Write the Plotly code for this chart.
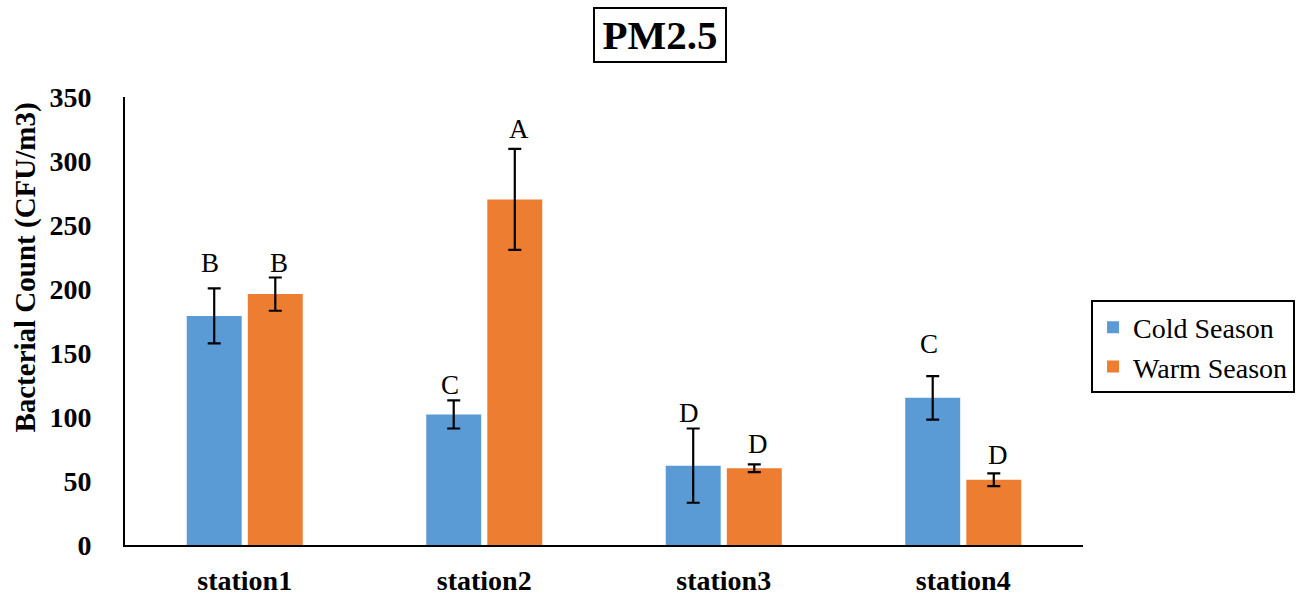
import plotly.graph_objects as go

stations = ["station1", "station2", "station3", "station4"]
cold = [179, 102, 62, 115]
cold_err = [21.5, 11, 29, 17]
warm = [196, 270, 60, 51]
warm_err = [13, 39.5, 3, 5]
cold_letters = ["B", "C", "D", "C"]
warm_letters = ["B", "A", "D", "D"]
cold_letter_y = [220, 125, 103, 157]
warm_letter_y = [220, 325, 79, 70]

y_ticks = [0, 50, 100, 150, 200, 250, 300, 350]

SERIF = "Times New Roman, Liberation Serif, Tinos, DejaVu Serif, serif"
BLUE = "#5B9BD5"
ORANGE = "#ED7D31"

fig = go.Figure()
fig.add_trace(go.Bar(
    name="Cold Season", x=stations, y=cold,
    marker=dict(color=BLUE, line=dict(width=0)),
    error_y=dict(type="data", array=cold_err, color="black", thickness=2.2, width=6.5),
))
fig.add_trace(go.Bar(
    name="Warm Season", x=stations, y=warm,
    marker=dict(color=ORANGE, line=dict(width=0)),
    error_y=dict(type="data", array=warm_err, color="black", thickness=2.2, width=6.5),
))

# significance letters above each bar
annotations = []
for i, s in enumerate(stations):
    annotations.append(dict(x=s, y=cold_letter_y[i], text=cold_letters[i], xref="x", yref="y",
                            xshift=-34.5, showarrow=False, yanchor="middle",
                            font=dict(family=SERIF, size=27, color="black")))
    annotations.append(dict(x=s, y=warm_letter_y[i], text=warm_letters[i], xref="x", yref="y",
                            xshift=34.5, showarrow=False, yanchor="middle",
                            font=dict(family=SERIF, size=27, color="black")))

# boxed chart title
annotations.append(dict(x=0.5585, y=1.138, xref="paper", yref="paper", text="<b>PM2.5</b>",
                        showarrow=False, xanchor="center", yanchor="middle",
                        width=126, height=48,
                        bordercolor="black", borderwidth=2, borderpad=2, bgcolor="white",
                        font=dict(family=SERIF, size=41, color="black")))

# y-axis title
annotations.append(dict(x=-0.104, y=0.62, xref="paper", yref="paper",
                        text="<b>Bacterial Count (CFU/m3)</b>", textangle=-90,
                        showarrow=False, xanchor="center", yanchor="middle",
                        font=dict(family=SERIF, size=29, color="black")))

fig.update_layout(
    width=1304, height=597,
    margin=dict(l=125, r=221, t=97, b=52, autoexpand=False),
    paper_bgcolor="white", plot_bgcolor="white",
    barmode="group", bargap=0.49, bargroupgap=0.1,
    showlegend=True,
    font=dict(family=SERIF, color="black"),
    legend=dict(x=1.0084, y=0.442, xanchor="left", yanchor="middle",
                bordercolor="black", borderwidth=2, bgcolor="white",
                font=dict(family=SERIF, size=28, color="black"),
                itemsizing="constant", tracegroupgap=0),
    annotations=annotations,
    xaxis=dict(showline=True, linecolor="black", linewidth=2.2, ticks="",
               automargin=False, ticklabelstandoff=9,
               tickfont=dict(family=SERIF, size=28, color="black"),
               tickvals=stations, ticktext=[f"<b>{s}</b>" for s in stations],
               showgrid=False, zeroline=False),
    yaxis=dict(range=[0, 350], tickvals=y_ticks,
               ticktext=[f"<b>{v}</b>" for v in y_ticks],
               showline=True, linecolor="black", linewidth=2, ticks="",
               automargin=False, ticklabelstandoff=26,
               tickfont=dict(family=SERIF, size=28, color="black"),
               showgrid=False, zeroline=False),
)

fig.write_html("out.html")
